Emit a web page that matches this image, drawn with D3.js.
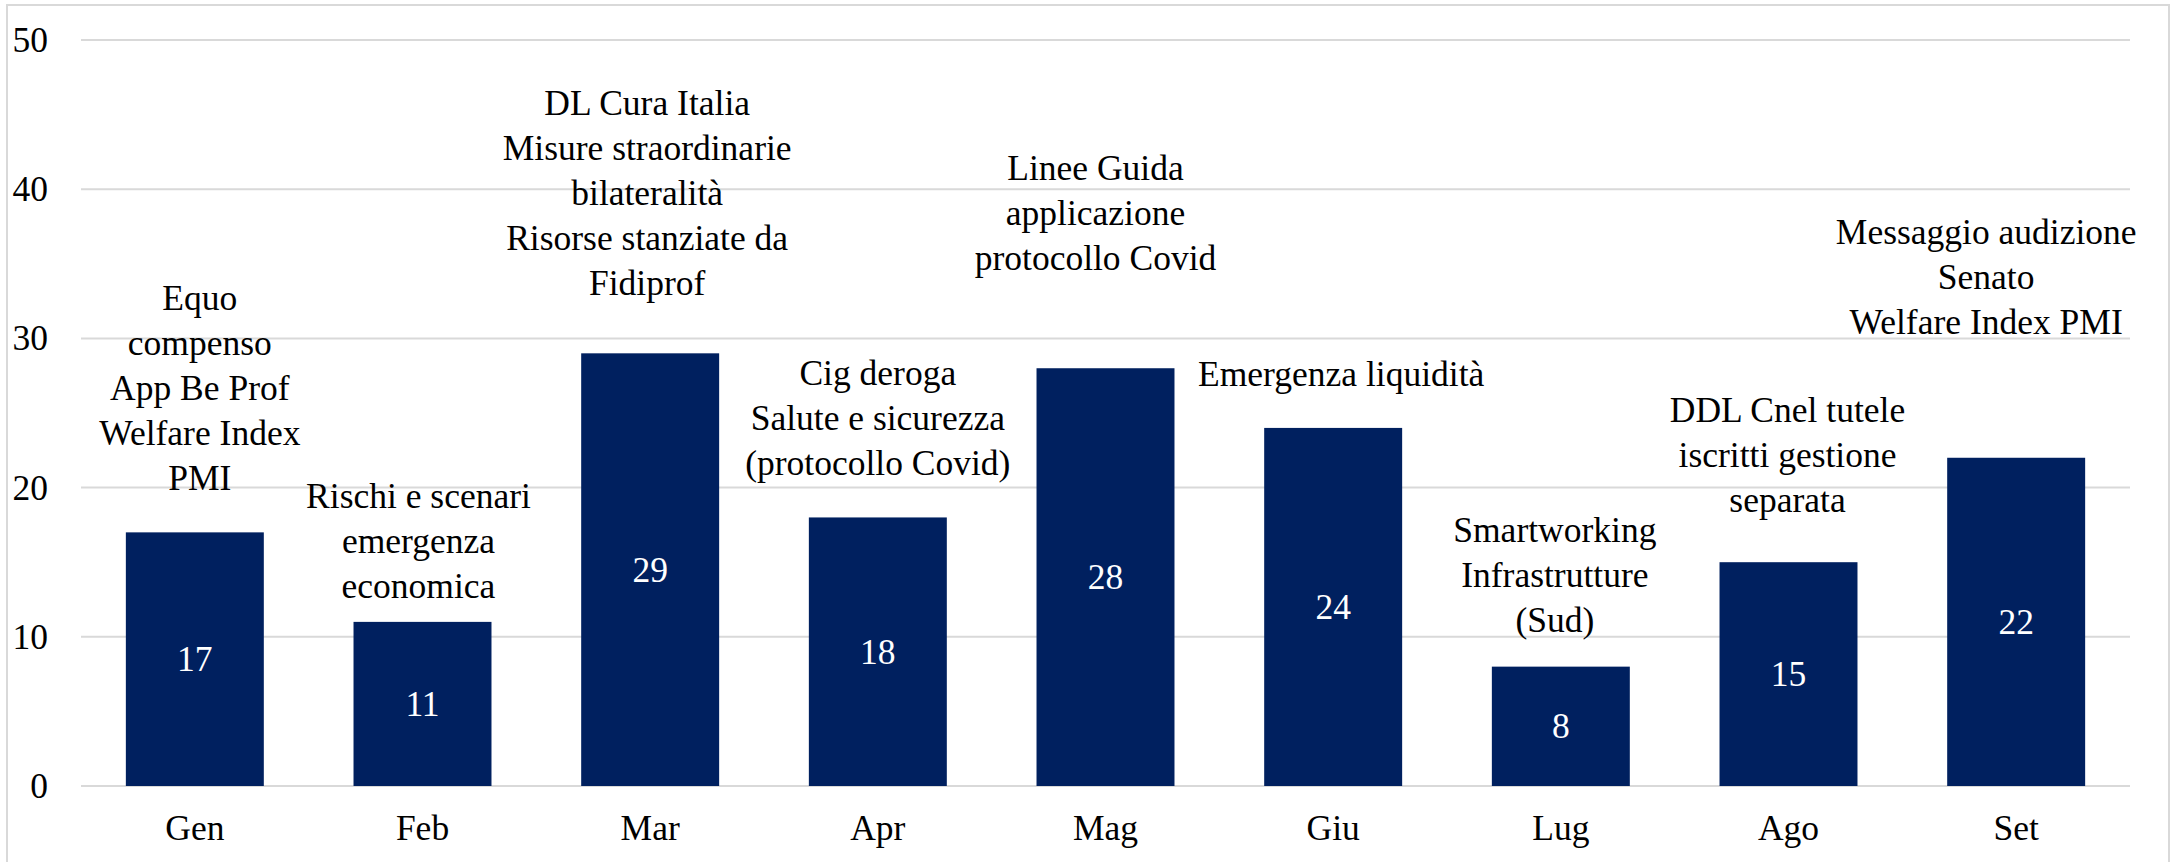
<!DOCTYPE html>
<html>
<head>
<meta charset="utf-8">
<script src="https://cdn.jsdelivr.net/npm/d3@7"></script>
<style>
  html, body { margin: 0; padding: 0; background: #fff; }
</style>
</head>
<body>
<div id="graphicContainer"></div>
<script>
// data
var months = ["Gen", "Feb", "Mar", "Apr", "Mag", "Giu", "Lug", "Ago", "Set"]
var counts = [17, 11, 29, 18, 28, 24, 8, 15, 22]
var notes = [
  ["Equo", "compenso", "App Be Prof", "Welfare Index", "PMI"],
  ["Rischi e scenari", "emergenza", "economica"],
  ["DL Cura Italia", "Misure straordinarie", "bilateralità", "Risorse stanziate da", "Fidiprof"],
  ["Cig deroga", "Salute e sicurezza", "(protocollo Covid)"],
  ["Linee Guida", "applicazione", "protocollo Covid"],
  ["Emergenza liquidità"],
  ["Smartworking", "Infrastrutture", "(Sud)"],
  ["DDL Cnel tutele", "iscritti gestione", "separata"],
  ["Messaggio audizione", "Senato", "Welfare Index PMI"]
]
var yTicks = [0, 10, 20, 30, 40, 50]

// label nudges (layout only), in px: [dx, dy]
var noteShift = [[5, 0], [-4, 18], [-3, -16], [0, 0], [-10, -56], [8, 0], [-6, 7], [-1, -8], [-30, -82]]

var width = 2177
var height = 862
var fontSize = 35.5
var lineGap = 45

var svg = d3.select("#graphicContainer")
  .append("svg")
  .attr("width", width)
  .attr("height", height)
  .style("display", "block")
  .attr("font-family", "'Liberation Serif', 'DejaVu Serif', serif")
  .attr("font-size", fontSize)

// chart frame
svg.append("rect")
  .attr("x", 7)
  .attr("y", 5)
  .attr("width", 2162)
  .attr("height", 900)
  .attr("fill", "none")
  .attr("stroke", "#d9d9d9")
  .attr("stroke-width", 2)

var x = d3.scaleBand()
  .domain(months)
  .range([81, 2130])
  .paddingInner(0.394)
  .paddingOuter(0.197)

var y = d3.scaleLinear()
  .domain([0, 50])
  .range([786, 40])

// gridlines
svg.append("g")
  .selectAll("line")
  .data(yTicks)
  .join("line")
  .attr("x1", 81)
  .attr("x2", 2130)
  .attr("y1", d => y(d))
  .attr("y2", d => y(d))
  .attr("stroke", "#d9d9d9")
  .attr("stroke-width", 2)

// y tick labels
svg.append("g")
  .selectAll("text")
  .data(yTicks)
  .join("text")
  .attr("x", 48)
  .attr("y", d => y(d) + 12)
  .attr("text-anchor", "end")
  .attr("fill", "#000")
  .text(d => d)

var rows = months.map(function (m, i) {
  return { month: m, value: counts[i], note: notes[i], shift: noteShift[i] }
})

svg.append("g")
  .selectAll("rect")
  .data(rows)
  .join("rect")
  .attr("x", d => x(d.month))
  .attr("y", d => y(d.value))
  .attr("width", x.bandwidth())
  .attr("height", d => y(0) - y(d.value))
  .attr("fill", "#00205f")

// values inside bars
svg.append("g")
  .selectAll("text")
  .data(rows)
  .join("text")
  .attr("x", d => x(d.month) + x.bandwidth() / 2)
  .attr("y", d => (y(d.value) + y(0)) / 2 + 12)
  .attr("text-anchor", "middle")
  .attr("fill", "#fff")
  .text(d => d.value)

// month labels
svg.append("g")
  .selectAll("text")
  .data(months)
  .join("text")
  .attr("x", d => x(d) + x.bandwidth() / 2)
  .attr("y", 840)
  .attr("text-anchor", "middle")
  .attr("fill", "#000")
  .text(d => d)

// annotations above the bars
var note = svg.append("g")
  .selectAll("text")
  .data(rows)
  .join("text")
  .attr("text-anchor", "middle")
  .attr("fill", "#000")

note.each(function (d) {
  var cx = x(d.month) + x.bandwidth() / 2 + d.shift[0]
  var last = y(d.value) - 42 + d.shift[1]
  var n = d.note.length
  d3.select(this).selectAll("tspan")
    .data(d.note)
    .join("tspan")
    .attr("x", cx)
    .attr("y", (t, k) => last - (n - 1 - k) * lineGap)
    .text(t => t)
})
</script>
</body>
</html>
